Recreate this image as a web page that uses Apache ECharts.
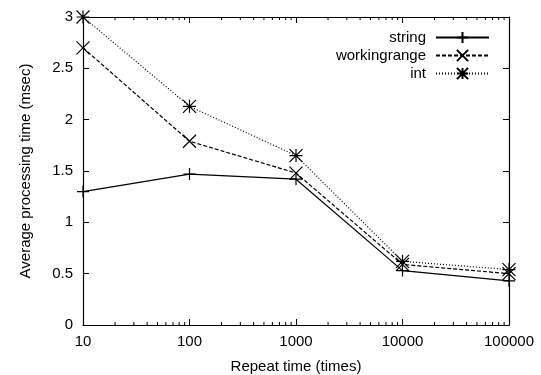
<!DOCTYPE html>
<html>
<head>
<meta charset="utf-8">
<script src="https://cdn.jsdelivr.net/npm/echarts@6/dist/echarts.min.js"></script>
<style>
html, body { margin: 0; padding: 0; background: #fff; }
#chart { width: 541px; height: 375px; }
</style>
</head>
<body>
<div id="chart"></div>
<script>
// repeat counts (x, log scale)
var repeatTimes = [10, 100, 1000, 10000, 100000];
// average processing time (msec)
var stringTimes = [1.30, 1.47, 1.42, 0.53, 0.43];
var workingrangeTimes = [2.70, 1.79, 1.48, 0.59, 0.50];
var intTimes = [3.00, 2.13, 1.65, 0.62, 0.54];
// gnuplot style minor ticks: 2..9 in each decade
var decades = [10, 100, 1000, 10000];
var minorSteps = [2, 3, 4, 5, 6, 7, 8, 9];

var minorTicks = [];
decades.forEach(function (d) {
  minorSteps.forEach(function (m) { minorTicks.push([d * m]); });
});

function pairs(ys) {
  return repeatTimes.map(function (x, i) { return [x, ys[i]]; });
}

var font = '"Liberation Sans", Arial, Helvetica, sans-serif';
var plusPath = 'path://M0,5L10,5M5,0L5,10';
var crossPath = 'path://M0,0L10,10M10,0L0,10';
var starPath = 'path://M0,5L10,5M5,0L5,10M0,0L10,10M10,0L0,10';

function lineSeries(name, ys, symbol, size, dash) {
  return {
    name: name,
    type: 'line',
    data: pairs(ys),
    symbol: symbol,
    symbolSize: size,
    showAllSymbol: true,
    color: '#000',
    itemStyle: { color: '#000', borderColor: '#000', borderWidth: 1.2 },
    lineStyle: { color: '#000', width: 1.2, type: dash },
    emphasis: { disabled: true },
    animation: false
  };
}

var chart = echarts.init(document.getElementById('chart'));

var axisLine = { show: true, onZero: false, lineStyle: { color: '#000', width: 1.2 } };
var tick = { show: true, inside: true, length: 6, lineStyle: { color: '#000' } };

var option = {
  backgroundColor: '#fff',
  animation: false,
  textStyle: { fontFamily: font },
  grid: { left: 83, right: 32, top: 17, bottom: 50, containLabel: false, outerBoundsMode: 'none' },
  legend: {
    data: ['string', 'workingrange', 'int'],
    orient: 'vertical',
    align: 'right',
    right: 46,
    top: 25,
    itemWidth: 53,
    itemHeight: 14,
    itemGap: 3,
    selectedMode: false,
    textStyle: { fontFamily: font, fontSize: 15, color: '#000', padding: [0, 5, 0, 0] }
  },
  xAxis: [
    {
      type: 'log',
      logBase: 10,
      min: 10,
      max: 100000,
      position: 'bottom',
      name: 'Repeat time (times)',
      nameLocation: 'middle',
      nameGap: 34,
      nameTextStyle: { fontFamily: font, fontSize: 15, color: '#000' },
      axisLine: axisLine,
      axisTick: tick,
      axisLabel: {
        fontFamily: font, fontSize: 15, color: '#000', margin: 9,
        formatter: function (v) { return String(Math.round(v)); }
      },
      splitLine: { show: false }
    },
    {
      type: 'log',
      logBase: 10,
      min: 10,
      max: 100000,
      position: 'top',
      axisLine: axisLine,
      axisTick: tick,
      axisLabel: { show: false },
      splitLine: { show: false }
    }
  ],
  yAxis: [
    {
      type: 'value',
      min: 0,
      max: 3,
      interval: 0.5,
      position: 'left',
      name: 'Average processing time (msec)',
      nameLocation: 'middle',
      nameGap: 50,
      nameTextStyle: { fontFamily: font, fontSize: 15, color: '#000' },
      axisLine: axisLine,
      axisTick: tick,
      axisLabel: { fontFamily: font, fontSize: 15, color: '#000', margin: 10 },
      splitLine: { show: false }
    },
    {
      type: 'value',
      min: 0,
      max: 3,
      interval: 0.5,
      position: 'right',
      axisLine: axisLine,
      axisTick: tick,
      axisLabel: { show: false },
      splitLine: { show: false }
    }
  ],
  series: [
    {
      type: 'custom',
      silent: true,
      data: minorTicks,
      renderItem: function (params, api) {
        var bottom = api.coord([api.value(0), 0]);
        var top = api.coord([api.value(0), 3]);
        var style = { stroke: '#000', lineWidth: 1 };
        return {
          type: 'group',
          children: [
            { type: 'line', shape: { x1: bottom[0], y1: bottom[1], x2: bottom[0], y2: bottom[1] - 3 }, style: style },
            { type: 'line', shape: { x1: top[0], y1: top[1], x2: top[0], y2: top[1] + 3 }, style: style }
          ]
        };
      },
      animation: false
    },
    lineSeries('string', stringTimes, plusPath, 12, 'solid'),
    lineSeries('workingrange', workingrangeTimes, crossPath, 13, [4, 2]),
    lineSeries('int', intTimes, starPath, 13, [1, 2])
  ]
};

chart.setOption(option);
</script>
</body>
</html>
